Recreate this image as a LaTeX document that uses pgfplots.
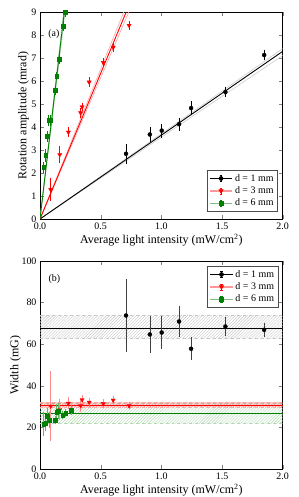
\documentclass[border=0pt]{standalone}
\usepackage{fontspec}
\setmainfont{Liberation Serif}
\usepackage{pgfplots}
\pgfplotsset{compat=1.18}
\usetikzlibrary{patterns}
\definecolor{mgreen}{RGB}{0,128,0}
\pgfplotsset{
  base/.style={
    scale only axis, width=242.7bp,
    xmin=0, xmax=2, xtick={0,0.5,1,1.5,2},
    xticklabel style={/pgf/number format/fixed,/pgf/number format/fixed zerofill,/pgf/number format/precision=1},
    /pgf/number format/assume math mode=true,
    tick label style={font=\fontsize{10}{12}\selectfont},
    label style={font=\fontsize{12}{14}\selectfont},
    tick align=inside, tick pos=both, major tick length=4bp,
    axis line style={black, line width=0.6pt},
    xlabel={Average light intensity (mW/cm\textsuperscript{2})},
    legend cell align=left,
    legend style={font=\fontsize{10}{12}\selectfont, draw=black!70, line width=0.6pt, inner sep=2pt, row sep=0pt},
    error bars/error bar style={line width=0.6pt},
    error bars/error mark options={mark size=2bp, line width=0.6pt},
  },
  errleg/.style={legend image code/.code={
     \draw[line width=1.3pt, draw=#1] (0cm,0cm) -- (0.8cm,0cm);
     \draw[line width=0.5pt] (0.4cm,-0.11cm) -- (0.4cm,0.11cm) (0.36cm,0.11cm) -- (0.44cm,0.11cm) (0.36cm,-0.11cm) -- (0.44cm,-0.11cm);
     \draw plot[only marks] coordinates {(0.4cm,0cm)};
  }},
}
\begin{document}
\begin{tikzpicture}
\path[use as bounding box] (0,0) rectangle (299bp,497bp);
% ---------------- top panel ----------------
\begin{axis}[base, at={(40bp,278bp)}, anchor=south west, height=206.7bp,
  ymin=0, ymax=9, ytick={0,1,...,9},
  ylabel={Rotation amplitude (mrad)},
  ylabel style={at={(axis description cs:-0.068,0.5)}, anchor=center},
  xlabel style={at={(axis description cs:0.5,-0.102)}, anchor=center},
  legend style={at={(0.98,0.035)}, anchor=south east},
]
% fit bands
\addplot[forget plot, gray!40, line width=0.6pt] coordinates {(0,0) (2,7.42)};
\addplot[forget plot, gray!40, line width=0.6pt] coordinates {(0,0) (2,7.12)};
\addplot[forget plot, red!35, line width=0.6pt] coordinates {(0,0) (0.8,10.45)};
\addplot[forget plot, red!35, line width=0.6pt] coordinates {(0,0) (0.8,9.85)};
\addplot[forget plot, mgreen!35, line width=0.6pt] coordinates {(0,0) (0.22,10.2)};
\addplot[forget plot, mgreen!35, line width=0.6pt] coordinates {(0,0) (0.22,9.6)};
% fits
\addplot[forget plot, black, line width=0.9pt] coordinates {(0,0) (2,7.3)};
\addplot[forget plot, red, line width=0.9pt] coordinates {(0,0) (0.8,10.15)};
\addplot[forget plot, mgreen, line width=0.9pt] coordinates {(0,0) (0.22,9.9)};
% data
\addplot[errleg=black, black, only marks, mark=*, mark size=2bp,
  error bars/.cd, y dir=both, y explicit] coordinates {
  (0.709,2.84) +- (0,0.35)
  (0.905,3.68) +- (0,0.25)
  (1.003,3.85) +- (0,0.22)
  (1.146,4.13) +- (0,0.20)
  (1.245,4.83) +- (0,0.22)
  (1.528,5.53) +- (0,0.15)
  (1.847,7.14) +- (0,0.15)
};
\addlegendentry{d = 1 mm}
\addplot[errleg=red!40, red, only marks, mark=triangle*, mark size=2.4bp, mark options={rotate=180},
  error bars/.cd, y dir=both, y explicit] coordinates {
  (0.088,1.28) +- (0,0.42)
  (0.163,2.80) +- (0,0.28)
  (0.234,3.78) +- (0,0.13)
  (0.335,4.62) +- (0,0.12)
  (0.347,4.88) +- (0,0.08)
  (0.405,5.96) +- (0,0.12)
  (0.522,6.81) +- (0,0.10)
  (0.603,7.47) +- (0,0.10)
  (0.734,8.43) +- (0,0.10)
};
\addlegendentry{d = 3 mm}
\addplot[errleg=mgreen!50, mgreen, only marks, mark=square*, mark size=1.9bp,
  error bars/.cd, y dir=both, y explicit] coordinates {
  (0.030,2.25) +- (0,0.15)
  (0.047,2.78) +- (0,0.20)
  (0.062,3.60) +- (0,0.15)
  (0.071,4.30) +- (0,0.15)
  (0.085,4.30) +- (0,0.15)
  (0.127,5.60) +- (0,0.12)
  (0.138,6.22) +- (0,0.10)
  (0.155,6.95) +- (0,0.10)
  (0.188,8.40) +- (0,0.12)
  (0.210,9.00) +- (0,0.10)
};
\addlegendentry{d = 6 mm}
\node[font=\fontsize{10}{12}\selectfont] at (axis cs:0.115,8.07) {(a)};
\end{axis}
% ---------------- bottom panel ----------------
\begin{axis}[base, at={(40bp,28bp)}, anchor=south west, height=208bp,
  ymin=0, ymax=100, ytick={0,20,...,100},
  ylabel={Width (mG)},
  ylabel style={at={(axis description cs:-0.101,0.5)}, anchor=center},
  xlabel style={at={(axis description cs:0.5,-0.101)}, anchor=center},
  legend style={at={(0.982,0.976)}, anchor=north east},
]
% bands
\addplot[forget plot, draw=none, pattern=north east lines, pattern color=gray!45] coordinates {(0,62.8) (2,62.8) (2,73.8) (0,73.8)} -- cycle;
\addplot[forget plot, gray!45, dashed, line width=0.7pt] coordinates {(0,62.8) (2,62.8)};
\addplot[forget plot, gray!45, dashed, line width=0.7pt] coordinates {(0,73.8) (2,73.8)};
\addplot[forget plot, draw=none, pattern=north east lines, pattern color=mgreen!30] coordinates {(0,22.0) (2,22.0) (2,31.6) (0,31.6)} -- cycle;
\addplot[forget plot, mgreen!30, dashed, line width=0.7pt] coordinates {(0,22.0) (2,22.0)};
\addplot[forget plot, mgreen!30, dashed, line width=0.7pt] coordinates {(0,31.6) (2,31.6)};
\addplot[forget plot, draw=none, fill=red, fill opacity=0.15] coordinates {(0,29.6) (2,29.6) (2,32.0) (0,32.0)} -- cycle;
\addplot[forget plot, draw=none, pattern=north east lines, pattern color=red!40] coordinates {(0,29.6) (2,29.6) (2,32.0) (0,32.0)} -- cycle;
\addplot[forget plot, red!35, dashed, line width=0.7pt] coordinates {(0,29.6) (2,29.6)};
\addplot[forget plot, red!35, dashed, line width=0.7pt] coordinates {(0,32.0) (2,32.0)};
% means
\addplot[forget plot, black, line width=0.9pt] coordinates {(0,67.8) (2,67.8)};
\addplot[forget plot, red, line width=0.9pt] coordinates {(0,30.7) (2,30.7)};
\addplot[forget plot, mgreen, line width=0.9pt] coordinates {(0,26.8) (2,26.8)};
% data
\addplot[errleg=black, black, only marks, mark=*, mark size=2bp,
  error bars/.cd, y dir=both, y explicit, error bar style={black!75}] coordinates {
  (0.709,73.8) +- (0,16.7)
  (0.905,64.7) +- (0,7.9)
  (1.003,65.6) +- (0,6.9)
  (1.146,70.9) +- (0,6.7)
  (1.245,57.8) +- (0,4.6)
  (1.528,68.5) +- (0,3.7)
  (1.847,66.9) +- (0,2.4)
};
\addlegendentry{d = 1 mm}
\addplot[errleg=red!40, red, only marks, mark=triangle*, mark size=2.4bp, mark options={rotate=180},
  error bars/.cd, y dir=both, y explicit, error bar style={red!45}] coordinates {
  (0.088,30.2) +- (0,15.8)
  (0.163,28.5) +- (0,4.0)
  (0.234,31.6) +- (0,2.0)
  (0.335,30.4) +- (0,2.0)
  (0.347,33.3) +- (0,1.2)
  (0.405,32.1) +- (0,1.2)
  (0.522,31.5) +- (0,1.0)
  (0.603,33.1) +- (0,1.0)
  (0.734,30.4) +- (0,0.8)
};
\addlegendentry{d = 3 mm}
\addplot[errleg=mgreen!50, mgreen, only marks, mark=square*, mark size=1.9bp,
  error bars/.cd, y dir=both, y explicit, error bar style={mgreen!60}] coordinates {
  (0.030,21.6) +- (0,5.0)
  (0.047,22.0) +- (0,3.0)
  (0.062,25.5) +- (0,3.0)
  (0.074,23.6) +- (0,3.0)
  (0.126,23.4) +- (0,1.0)
  (0.137,27.4) +- (0,3.0)
  (0.151,27.9) +- (0,3.0)
  (0.187,25.8) +- (0,1.0)
  (0.212,26.8) +- (0,1.0)
  (0.258,28.2) +- (0,1.5)
};
\addlegendentry{d = 6 mm}
\node[font=\fontsize{10}{12}\selectfont] at (axis cs:0.118,91.2) {(b)};
\end{axis}
\end{tikzpicture}
\end{document}
